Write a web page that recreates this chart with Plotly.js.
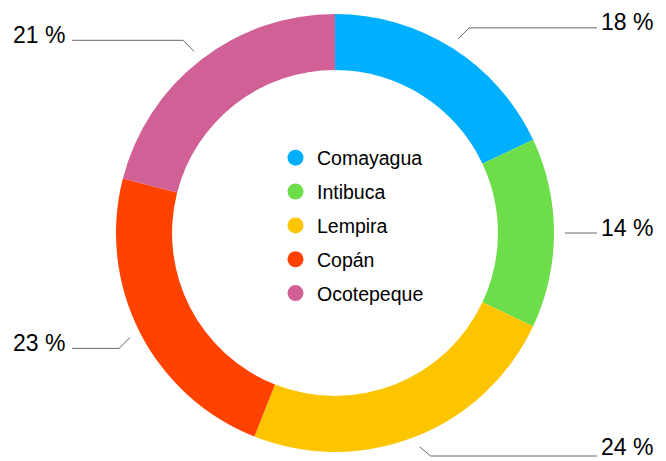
<!DOCTYPE html>
<html>
<head>
<meta charset="utf-8">
<script src="https://cdn.plot.ly/plotly-3.0.1.min.js"></script>
<style>html,body{margin:0;padding:0;background:#fff;}#chart{width:666px;height:461px;}</style>
</head>
<body>
<div id="chart"></div>
<script>
const categories = ['Comayagua', 'Intibuca', 'Lempira', 'Copán', 'Ocotepeque'];
const shares = [18, 14, 24, 23, 21];
const sliceColors = ['#00B0FF', '#6EDD4A', '#FCC500', '#FF4200', '#D06096'];
const labelSuffix = ' %';

const W = 666, H = 461;
const margin = {l: 4, r: 0, t: 14, b: 9};
const plotW = W - margin.l - margin.r, plotH = H - margin.t - margin.b;
const cx = margin.l + plotW / 2, cy = margin.t + plotH / 2;
const R = Math.min(plotW, plotH) / 2;
const px2x = p => (p - margin.l) / plotW;
const py2y = p => 1 - (p - margin.t) / plotH;

const total = shares.reduce((a, b) => a + b, 0);
const annotations = [], shapes = [];
let cum = 0;
shares.forEach((v, i) => {
  const mid = (cum + v / 2) / total * 2 * Math.PI;
  cum += v;
  const s = Math.sin(mid), c = Math.cos(mid);
  const r1 = R * 1.05, d = 11;
  const x0 = cx + r1 * s, y0 = cy - r1 * c;
  const right = s >= 0;
  const x1 = x0 + (right ? d : -d);
  let y1 = y0 - (Math.abs(c) < 0.1 ? 0 : Math.sign(c) * d);
  y1 = Math.min(Math.max(y1, 20), H - 5);
  const x2 = right ? cx + R * 1.196 : cx - R * 1.2;
  const ty = Math.min(y1 - 5.5, H - 14);
  shapes.push({
    type: 'path', xref: 'paper', yref: 'paper',
    path: `M ${px2x(x0)},${py2y(y0)} L ${px2x(x1)},${py2y(y1)} L ${px2x(x2)},${py2y(y1)}`,
    line: {color: '#666666', width: 1}
  });
  annotations.push({
    xref: 'paper', yref: 'paper',
    x: px2x(right ? x2 + 2 : x2 - 5), y: py2y(ty),
    xanchor: right ? 'left' : 'right', yanchor: 'middle',
    text: v + labelSuffix, showarrow: false,
    font: {family: 'Liberation Sans, Arial, sans-serif', size: 23, color: '#000'}
  });
});

const traces = [{
  type: 'pie', labels: categories, values: shares, sort: false,
  direction: 'clockwise', rotation: 0, hole: 0.744,
  marker: {colors: sliceColors, line: {width: 0}},
  textinfo: 'none', hoverinfo: 'label+percent', showlegend: false,
  domain: {x: [0, 1], y: [0, 1]}
}];
categories.forEach((name, i) => {
  traces.push({
    type: 'scatter', mode: 'markers', x: [null], y: [null], name: name,
    legendgroup: 'g' + i,
    marker: {color: sliceColors[i], size: 16, symbol: 'circle'},
    hoverinfo: 'skip'
  });
});

const layout = {
  width: W, height: H, margin: margin,
  paper_bgcolor: '#fff', plot_bgcolor: 'rgba(0,0,0,0)',
  xaxis: {visible: false}, yaxis: {visible: false},
  showlegend: true,
  legend: {
    x: px2x(274), y: py2y(225.5), xanchor: 'left', yanchor: 'middle',
    bgcolor: 'rgba(0,0,0,0)', borderwidth: 0, tracegroupgap: 5.5, itemwidth: 33,
    font: {family: 'Liberation Sans, Arial, sans-serif', size: 19.5, color: '#000'}
  },
  annotations: annotations, shapes: shapes
};
Plotly.newPlot('chart', traces, layout, {displayModeBar: false, staticPlot: true});
</script>
</body>
</html>
